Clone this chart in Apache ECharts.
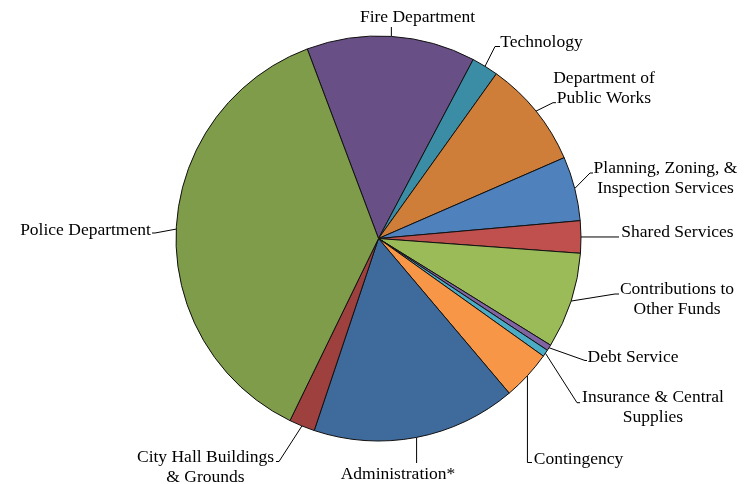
<!DOCTYPE html>
<html>
<head>
<meta charset="utf-8">
<script src="https://cdn.jsdelivr.net/npm/echarts@6/dist/echarts.min.js"></script>
<style>
  html, body { margin: 0; padding: 0; background: #ffffff; }
  #chart { width: 756px; height: 484px; }
</style>
</head>
<body>
<div id="chart"></div>
<script>
// General fund expenditures by department (share of total, %)
const departments = [
  'Fire Department',
  'Technology',
  'Department of\nPublic Works',
  'Planning, Zoning, &\nInspection Services',
  'Shared Services',
  'Contributions to\nOther Funds',
  'Debt Service',
  'Insurance & Central\nSupplies',
  'Contingency',
  'Administration*',
  'City Hall Buildings\n& Grounds',
  'Police Department'
];
const shares = [13.47, 2.14, 8.58, 5.13, 2.57, 7.67, 0.47, 0.56, 3.97, 16.31, 2.06, 37.08];
const sliceColors = ['#684F85', '#3A8DA5', '#CE7E39', '#4F81BD', '#C0504D', '#9BBB59',
                     '#8064A2', '#4BACC6', '#F79646', '#3F6A9C', '#9D403E', '#7E9C4A'];

// Callout placement: label centre, then the bend and end of each leader line.
// null means "same as the anchor coordinate" (straight vertical / horizontal leader).
const callouts = [
  { x: 417.5, y: 17,    bend: [null, 27],    end: [null, 27] },
  { x: 541.5, y: 42.5,  bend: [495, 46.5],   end: [500, 46.5] },
  { x: 604,   y: 88.3,  bend: [553, 102.7],  end: [556, 102.7] },
  { x: 665.5, y: 178.3, bend: [590, 173],    end: [593, 173] },
  { x: 677.5, y: 232.7, bend: [619, null],   end: [619, null] },
  { x: 677,   y: 299.8, bend: [615, 294],    end: [619, 294] },
  { x: 633,   y: 357,   bend: [585, 360.5],  end: [587, 360.5] },
  { x: 653,   y: 407.7, bend: [577, 402.7],  end: [580, 402.7] },
  { x: 578.5, y: 459.3, bend: [null, 462.5], end: [532, 462.5] },
  { x: 398,   y: 474.3, bend: [null, 463],   end: [null, 463] },
  { x: 205.5, y: 467,   bend: [279, 461.5],  end: [276, 461.5] },
  { x: 85.5,  y: 230.3, bend: [155, 233],    end: [152, 233] }
];

const CX = 378.5, CY = 238.5, R = 202.5, START = 110.6;

// Mid-angle point on the rim for a slice, used if no leader points are supplied
function rimPoint(idx) {
  const total = shares.reduce((a, b) => a + b, 0);
  let before = 0;
  for (let i = 0; i < idx; i++) before += shares[i];
  const mid = START - (before + shares[idx] / 2) / total * 360;
  const rad = mid * Math.PI / 180;
  return [CX + R * Math.cos(rad), CY - R * Math.sin(rad)];
}

const chart = echarts.init(document.getElementById('chart'), null, { renderer: 'canvas' });

chart.setOption({
  backgroundColor: '#ffffff',
  animation: false,
  series: [{
    type: 'pie',
    center: [CX, CY],
    radius: R,
    startAngle: START,
    clockwise: true,
    avoidLabelOverlap: false,
    data: departments.map((name, i) => ({
      name: name,
      value: shares[i],
      itemStyle: { color: sliceColors[i] }
    })),
    itemStyle: { borderColor: '#111111', borderWidth: 1 },
    label: {
      show: true,
      position: 'outside',
      formatter: '{b}',
      fontFamily: '"Liberation Serif", "Times New Roman", serif',
      fontSize: 17.5,
      lineHeight: 20,
      color: '#000000'
    },
    labelLine: {
      show: true,
      length: 10,
      length2: 10,
      lineStyle: { color: '#000000', width: 1 }
    },
    emphasis: { disabled: true },
    labelLayout: function (params) {
      const c = callouts[params.dataIndex];
      const pts = params.labelLinePoints;
      const a = (pts && pts.length) ? pts[0] : rimPoint(params.dataIndex);
      const resolve = p => [p[0] == null ? a[0] : p[0], p[1] == null ? a[1] : p[1]];
      return {
        x: c.x,
        y: c.y,
        align: 'center',
        verticalAlign: 'middle',
        labelLinePoints: [a, resolve(c.bend), resolve(c.end)]
      };
    }
  }]
});
</script>
</body>
</html>
